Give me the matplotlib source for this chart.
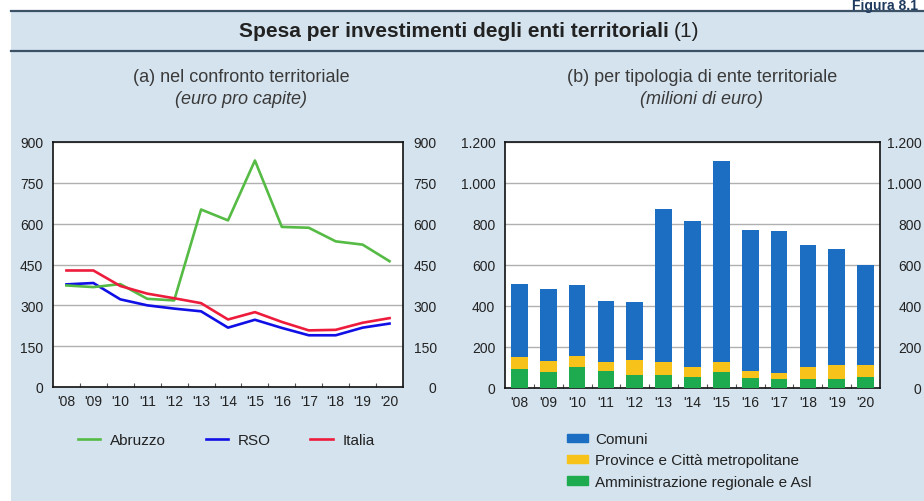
import matplotlib
matplotlib.use("Agg")
import matplotlib.pyplot as plt
import matplotlib.transforms as mtransforms
from matplotlib.patches import Rectangle
from matplotlib.lines import Line2D
from matplotlib.ticker import FuncFormatter
import numpy as np

# ── dati ───────────────────────────────────────────────────────────────────────
anni = ["'08", "'09", "'10", "'11", "'12", "'13", "'14", "'15", "'16", "'17", "'18", "'19", "'20"]

# (a) euro pro capite
abruzzo = [373, 367, 378, 324, 318, 652, 612, 832, 588, 585, 535, 523, 462]
rso     = [377, 382, 322, 300, 288, 278, 218, 247, 217, 190, 190, 218, 233]
italia  = [428, 428, 371, 343, 326, 308, 248, 275, 239, 208, 210, 236, 253]

# (b) milioni di euro
comuni   = [354, 349, 345, 296, 284, 748, 711, 980, 689, 693, 594, 565, 487]
province = [60, 54, 54, 44, 73, 65, 50, 49, 34, 31, 56, 69, 57]
asl      = [91, 78, 102, 83, 62, 62, 52, 78, 49, 42, 46, 42, 54]

# ── stile ──────────────────────────────────────────────────────────────────────
plt.rcParams["font.family"] = ["Liberation Sans", "DejaVu Sans"]

BG = "#d5e3ee"
LINEA = "#3b5166"
TXT = "#3a3a3a"
C_ABR, C_RSO, C_ITA = "#55bb44", "#1010e6", "#ee1c3c"
C_COM, C_PROV, C_ASL = "#1b6ec2", "#f7c21a", "#1eaa4f"

W, H = 924, 502
fig = plt.figure(figsize=(W / 100, H / 100), dpi=100, facecolor="white")


def fx(px):
    return px / W


def fy(py):
    return 1 - py / H


# pannello azzurro e intestazione
fig.patches.append(Rectangle((fx(11), 0), 1 - fx(11), fy(12.3), transform=fig.transFigure,
                             facecolor=BG, edgecolor="none", zorder=-5))
for yy in (12.3, 52):
    fig.add_artist(Line2D([fx(11), 1], [fy(yy), fy(yy)], transform=fig.transFigure,
                          color=LINEA, lw=1.6, zorder=-4))

fig.text(fx(852), fy(10), "Figura 8.1", fontsize=10, fontweight="bold", color="#1f3a5f",
         va="baseline", ha="left")

# titolo: parte in grassetto + "(1)"
rend = fig.canvas.get_renderer()
t1 = fig.text(fx(239), fy(32), "Spesa per investimenti degli enti territoriali",
              fontsize=15, fontweight="bold", color="#222222", va="center", ha="left")
bb = t1.get_window_extent(renderer=rend)
fig.text(bb.x1 / W + fx(5), fy(32), "(1)", fontsize=15, color="#222222", va="center",
         ha="left")

# sottotitoli
fig.text(fx(241), fy(78), "(a) nel confronto territoriale", fontsize=13, color=TXT,
         ha="center", va="center")
fig.text(fx(241), fy(100), "(euro pro capite)", fontsize=13, color=TXT, style="italic",
         ha="center", va="center")
fig.text(fx(702), fy(78), "(b) per tipologia di ente territoriale", fontsize=13, color=TXT,
         ha="center", va="center")
fig.text(fx(702), fy(100), "(milioni di euro)", fontsize=13, color=TXT, style="italic",
         ha="center", va="center")


def prepara_asse(ax, yticks, fmt):
    x = np.arange(len(anni))
    ax.set_facecolor("white")
    ax.set_xlim(-0.5, len(anni) - 0.5)
    ax.set_ylim(yticks[0], yticks[-1])
    ax.set_yticks(yticks)
    ax.yaxis.set_major_formatter(FuncFormatter(fmt))
    ax.set_xticks(x)
    ax.set_xticklabels(anni)
    ax.set_xticks(x[:-1] + 0.5, minor=True)
    ax.tick_params(axis="x", which="major", length=0, pad=5, labelsize=10, colors="#222222")
    ax.tick_params(axis="x", which="minor", length=3, direction="in", width=0.8, color="#555555")
    ax.tick_params(axis="y", which="major", length=0, labelsize=10, colors="#222222",
                   left=False, right=False, labelleft=True, labelright=True, pad=7)
    for sp in ax.spines.values():
        sp.set_color("#111111")
        sp.set_linewidth(1.2)
    ax.grid(axis="y", color="#b0b0b0", lw=1.0)
    ax.set_axisbelow(True)
    return x


def sposta_destra(ax, dx_px):
    # etichette di destra allineate a destra, spostate di dx_px dal bordo
    off = mtransforms.ScaledTranslation(dx_px / 100, 0, fig.dpi_scale_trans)
    for tk in ax.yaxis.get_major_ticks():
        tk.label2.set_horizontalalignment("right")
        tk.label2.set_transform(tk.label2.get_transform() + off)


# (a) linee
ax1 = fig.add_axes([fx(53), fy(388), fx(350), fy(143) - fy(388)])
x = prepara_asse(ax1, [0, 150, 300, 450, 600, 750, 900], lambda v, p: f"{int(v)}")
ax1.plot(x, rso, color=C_RSO, lw=1.9, label="RSO", zorder=3)
ax1.plot(x, italia, color=C_ITA, lw=1.9, label="Italia", zorder=4)
ax1.plot(x, abruzzo, color=C_ABR, lw=1.9, label="Abruzzo", zorder=3)

# (b) barre impilate
ax2 = fig.add_axes([fx(505), fy(389), fx(375), fy(143) - fy(389)])
x = prepara_asse(ax2, [0, 200, 400, 600, 800, 1000, 1200],
                 lambda v, p: f"{int(v):,}".replace(",", "."))
bw = 0.58
ax2.bar(x, asl, bw, color=C_ASL, zorder=3)
ax2.bar(x, province, bw, bottom=asl, color=C_PROV, zorder=3)
base = np.array(asl) + np.array(province)
ax2.bar(x, comuni, bw, bottom=base, color=C_COM, zorder=3)

fig.canvas.draw()
sposta_destra(ax1, 24)
sposta_destra(ax2, 32)

# legende
h1 = [Line2D([], [], color=C_ABR, lw=1.9), Line2D([], [], color=C_RSO, lw=1.9),
      Line2D([], [], color=C_ITA, lw=1.9)]
fig.legend(h1, ["Abruzzo", "RSO", "Italia"], loc="center left",
           bbox_to_anchor=(fx(78), fy(441)), ncol=3, frameon=False, fontsize=11,
           handlelength=1.45, handletextpad=0.65, columnspacing=2.6,
           borderpad=0, borderaxespad=0, labelcolor="#222222")

h2 = [Rectangle((0, 0), 1, 1, color=C_COM), Rectangle((0, 0), 1, 1, color=C_PROV),
      Rectangle((0, 0), 1, 1, color=C_ASL)]
fig.legend(h2, ["Comuni", "Province e Città metropolitane", "Amministrazione regionale e Asl"],
           loc="center left", bbox_to_anchor=(fx(567), fy(461.5)), ncol=1, frameon=False,
           fontsize=11, handlelength=1.37, handleheight=0.5, handletextpad=0.45,
           labelspacing=0.47, borderpad=0, borderaxespad=0, labelcolor="#222222")

fig.savefig("out.png", dpi=100, facecolor="white")
